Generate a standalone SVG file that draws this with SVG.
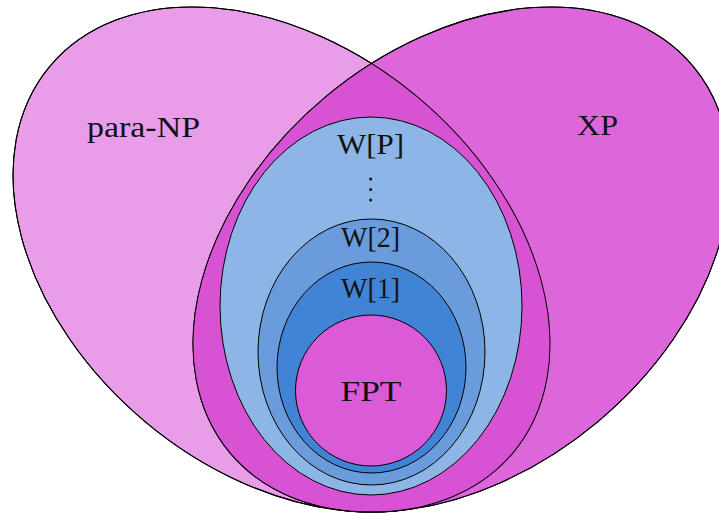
<svg xmlns="http://www.w3.org/2000/svg" xmlns:xlink="http://www.w3.org/1999/xlink" width="719" height="514" viewBox="0 0 719 514">
  <style>
    .edge { stroke: #000; stroke-width: 1; }
    .lbl { font-family: "Liberation Serif", "Times New Roman", serif; font-size: 29px; fill: #111; text-anchor: middle; }
  </style>
  <defs>
    <!-- two tilted ellipses forming the lobes -->
    <ellipse id="lobeL" cx="281.5" cy="259.5" rx="301.6" ry="211.9" transform="rotate(39.8 281.5 259.5)"/>
    <ellipse id="lobeR" cx="461.5" cy="259.5" rx="301.6" ry="211.9" transform="rotate(-39.8 461.5 259.5)"/>
    <clipPath id="clipR">
      <use xlink:href="#lobeR"/>
    </clipPath>
  </defs>

  <rect width="719" height="514" fill="#fff"/>

  <g id="para-np">
    <use xlink:href="#lobeL" fill="#e99ce8" class="edge"/>
    <text class="lbl" x="143.5" y="137" textLength="113" lengthAdjust="spacingAndGlyphs">para-NP</text>
  </g>

  <g id="xp">
    <use xlink:href="#lobeR" fill="#dd66db" class="edge"/>
    <text class="lbl" x="597.5" y="135" textLength="41" lengthAdjust="spacingAndGlyphs">XP</text>
  </g>

  <!-- shared region of both lobes, outlines redrawn on top -->
  <g id="overlap">
    <use xlink:href="#lobeL" fill="#d852d4" clip-path="url(#clipR)"/>
    <use xlink:href="#lobeL" fill="none" class="edge"/>
    <use xlink:href="#lobeR" fill="none" class="edge"/>
  </g>

  <g id="wp">
    <ellipse cx="371" cy="306" rx="151" ry="189" fill="#8db5e6" class="edge"/>
    <text class="lbl" x="370.5" y="154" textLength="67" lengthAdjust="spacingAndGlyphs">W[P]</text>
    <circle cx="370.7" cy="179" r="1.5" fill="#111"/>
    <circle cx="370.7" cy="189.5" r="1.5" fill="#111"/>
    <circle cx="370.7" cy="200" r="1.5" fill="#111"/>
  </g>

  <g id="w2">
    <ellipse cx="371.5" cy="352" rx="113.5" ry="133" fill="#6a9cdc" class="edge"/>
    <text class="lbl" x="370.5" y="247" textLength="59" lengthAdjust="spacingAndGlyphs">W[2]</text>
  </g>

  <g id="w1">
    <ellipse cx="371.5" cy="367.5" rx="94.5" ry="105.5" fill="#4183d4" class="edge"/>
    <text class="lbl" x="370.5" y="298" textLength="59" lengthAdjust="spacingAndGlyphs">W[1]</text>
  </g>

  <g id="fpt">
    <circle cx="371" cy="390.5" r="75.5" fill="#db5ad8" class="edge"/>
    <text class="lbl" x="371" y="400.5" textLength="61" lengthAdjust="spacingAndGlyphs">FPT</text>
  </g>
</svg>
